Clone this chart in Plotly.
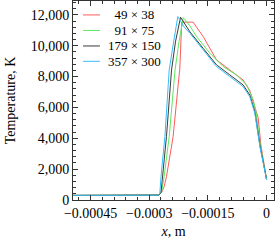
import plotly.graph_objects as go

# Series names
names = ["49\u00a0\u00d7\u00a038", "91\u00a0\u00d7\u00a075", "179\u00a0\u00d7\u00a0150", "357\u00a0\u00d7\u00a0300"]
legend_labels = ["\u00a0\u00a049 \u00d7 38", "\u00a0\u00a091 \u00d7 75", "179 \u00d7 150", "357 \u00d7 300"]

# x in m, T in K
x_49 = [-0.0005, -0.00029, -0.000275, -0.000268, -0.000262, -0.000256, -0.000239, -0.0002235,
        -0.000222, -0.000217, -0.000188, -0.000162, -0.000128, -0.000094, -0.00006, -0.000043,
        -0.00003, -0.0000215, -0.0000146, -0.0000069, 0.0]
T_49 = [300, 300, 320, 520, 860, 1510, 4110, 8110,
        8430, 11530, 11530, 10590, 9080, 8430, 7780, 7100,
        6050, 5320, 3570, 2400, 1340]

x_91 = [-0.0005, -0.00029, -0.000275, -0.000268, -0.000262, -0.000249, -0.000234, -0.000224,
        -0.000213, -0.000196, -0.000179, -0.000145, -0.000111, -0.000077, -0.000051, -0.000034,
        -0.000027, -0.000016, -0.0000082, 0.0]
T_91 = [300, 300, 320, 600, 1510, 4110, 8430, 10250,
        11820, 11290, 10590, 9520, 8650, 8110, 7460, 6490,
        5710, 3570, 2470, 1340]

x_179 = [-0.0005, -0.00029, -0.000275, -0.00027, -0.000266, -0.000256, -0.000243, -0.000233,
         -0.00022, -0.000206, -0.000196, -0.000162, -0.000128, -0.000094, -0.00006, -0.000043,
         -0.00003, -0.000017, -0.0000087, 0.0]
T_179 = [300, 300, 320, 480, 1510, 4110, 8430, 10250,
         11850, 11290, 10900, 9830, 8760, 8110, 7460, 6810,
         5740, 3540, 2430, 1340]

x_357 = [-0.0005, -0.00029, -0.000278, -0.000273, -0.00027, -0.00026, -0.000249, -0.000239,
         -0.000227, -0.000211, -0.000196, -0.000162, -0.000128, -0.000094, -0.00006, -0.000043,
         -0.00003, -0.000017, -0.0000087, 0.0]
T_357 = [300, 300, 310, 400, 1510, 4110, 8430, 10050,
         11890, 11220, 10810, 9730, 8650, 8000, 7350, 6700,
         5620, 3460, 2380, 1340]

x_tickvals = [-0.00045, -0.0003, -0.00015, 0.0]
x_ticktext = ["\u22120.00045", "\u22120.0003", "\u22120.00015", "0"]
y_tickvals = [0, 2000, 4000, 6000, 8000, 10000, 12000]
y_ticktext = ["0", "2,000", "4,000", "6,000", "8,000", "10,000", "12,000"]

colors = ["#ff5a5a", "#5ee85e", "#3a3a3a", "#38bdf8"]
series = [(x_49, T_49), (x_91, T_91), (x_179, T_179), (x_357, T_357)]

FONT = "Liberation Serif, Times New Roman, serif"

fig = go.Figure()
for (xs, ys), nm, c in zip(series, names, colors):
    fig.add_trace(go.Scatter(x=xs, y=ys, mode="lines", name=nm,
                             line=dict(color=c, width=1), showlegend=False))

# manual legend (keys + labels)
leg_y = [0.930, 0.852, 0.774, 0.697]
for lab, c, yy in zip(legend_labels, colors, leg_y):
    fig.add_shape(type="line", xref="paper", yref="paper", x0=0.05, x1=0.134,
                  y0=yy, y1=yy, line=dict(color=c, width=1))
    fig.add_annotation(xref="paper", yref="paper", x=0.162, y=yy, text=lab,
                       showarrow=False, xanchor="left", yanchor="middle",
                       font=dict(family=FONT, size=13, color="#000"))

axis_common = dict(showline=True, linecolor="#333", linewidth=1, mirror="allticks",
                   ticks="inside", ticklen=5, tickcolor="#333", showgrid=False,
                   zeroline=False, tickfont=dict(family=FONT, size=14, color="#000"))

fig.update_xaxes(range=[-0.000495, 0.000019], tickmode="array", tickvals=x_tickvals,
                 ticktext=x_ticktext,
                 minor=dict(tickmode="linear", tick0=0, dtick=0.00003, ticks="inside",
                            ticklen=3, tickcolor="#333"),
                 title=dict(text="<i>x</i>, m", font=dict(family=FONT, size=14, color="#000"),
                            standoff=6),
                 **axis_common)
fig.update_yaxes(range=[0, 12900], tickmode="array", tickvals=y_tickvals, ticktext=y_ticktext,
                 minor=dict(tickmode="linear", tick0=0, dtick=400, ticks="inside",
                            ticklen=3, tickcolor="#333"),
                 title=dict(text="Temperature, K", font=dict(family=FONT, size=14, color="#000"),
                            standoff=11),
                 **axis_common)

fig.update_layout(width=275, height=240, margin=dict(l=73, r=1, t=1, b=40),
                  plot_bgcolor="white", paper_bgcolor="white",
                  font=dict(family=FONT, size=14, color="#000"))

fig.write_html("out.html", config={"displayModeBar": False},
               post_script="document.body.style.margin='0';document.body.style.padding='0';")
